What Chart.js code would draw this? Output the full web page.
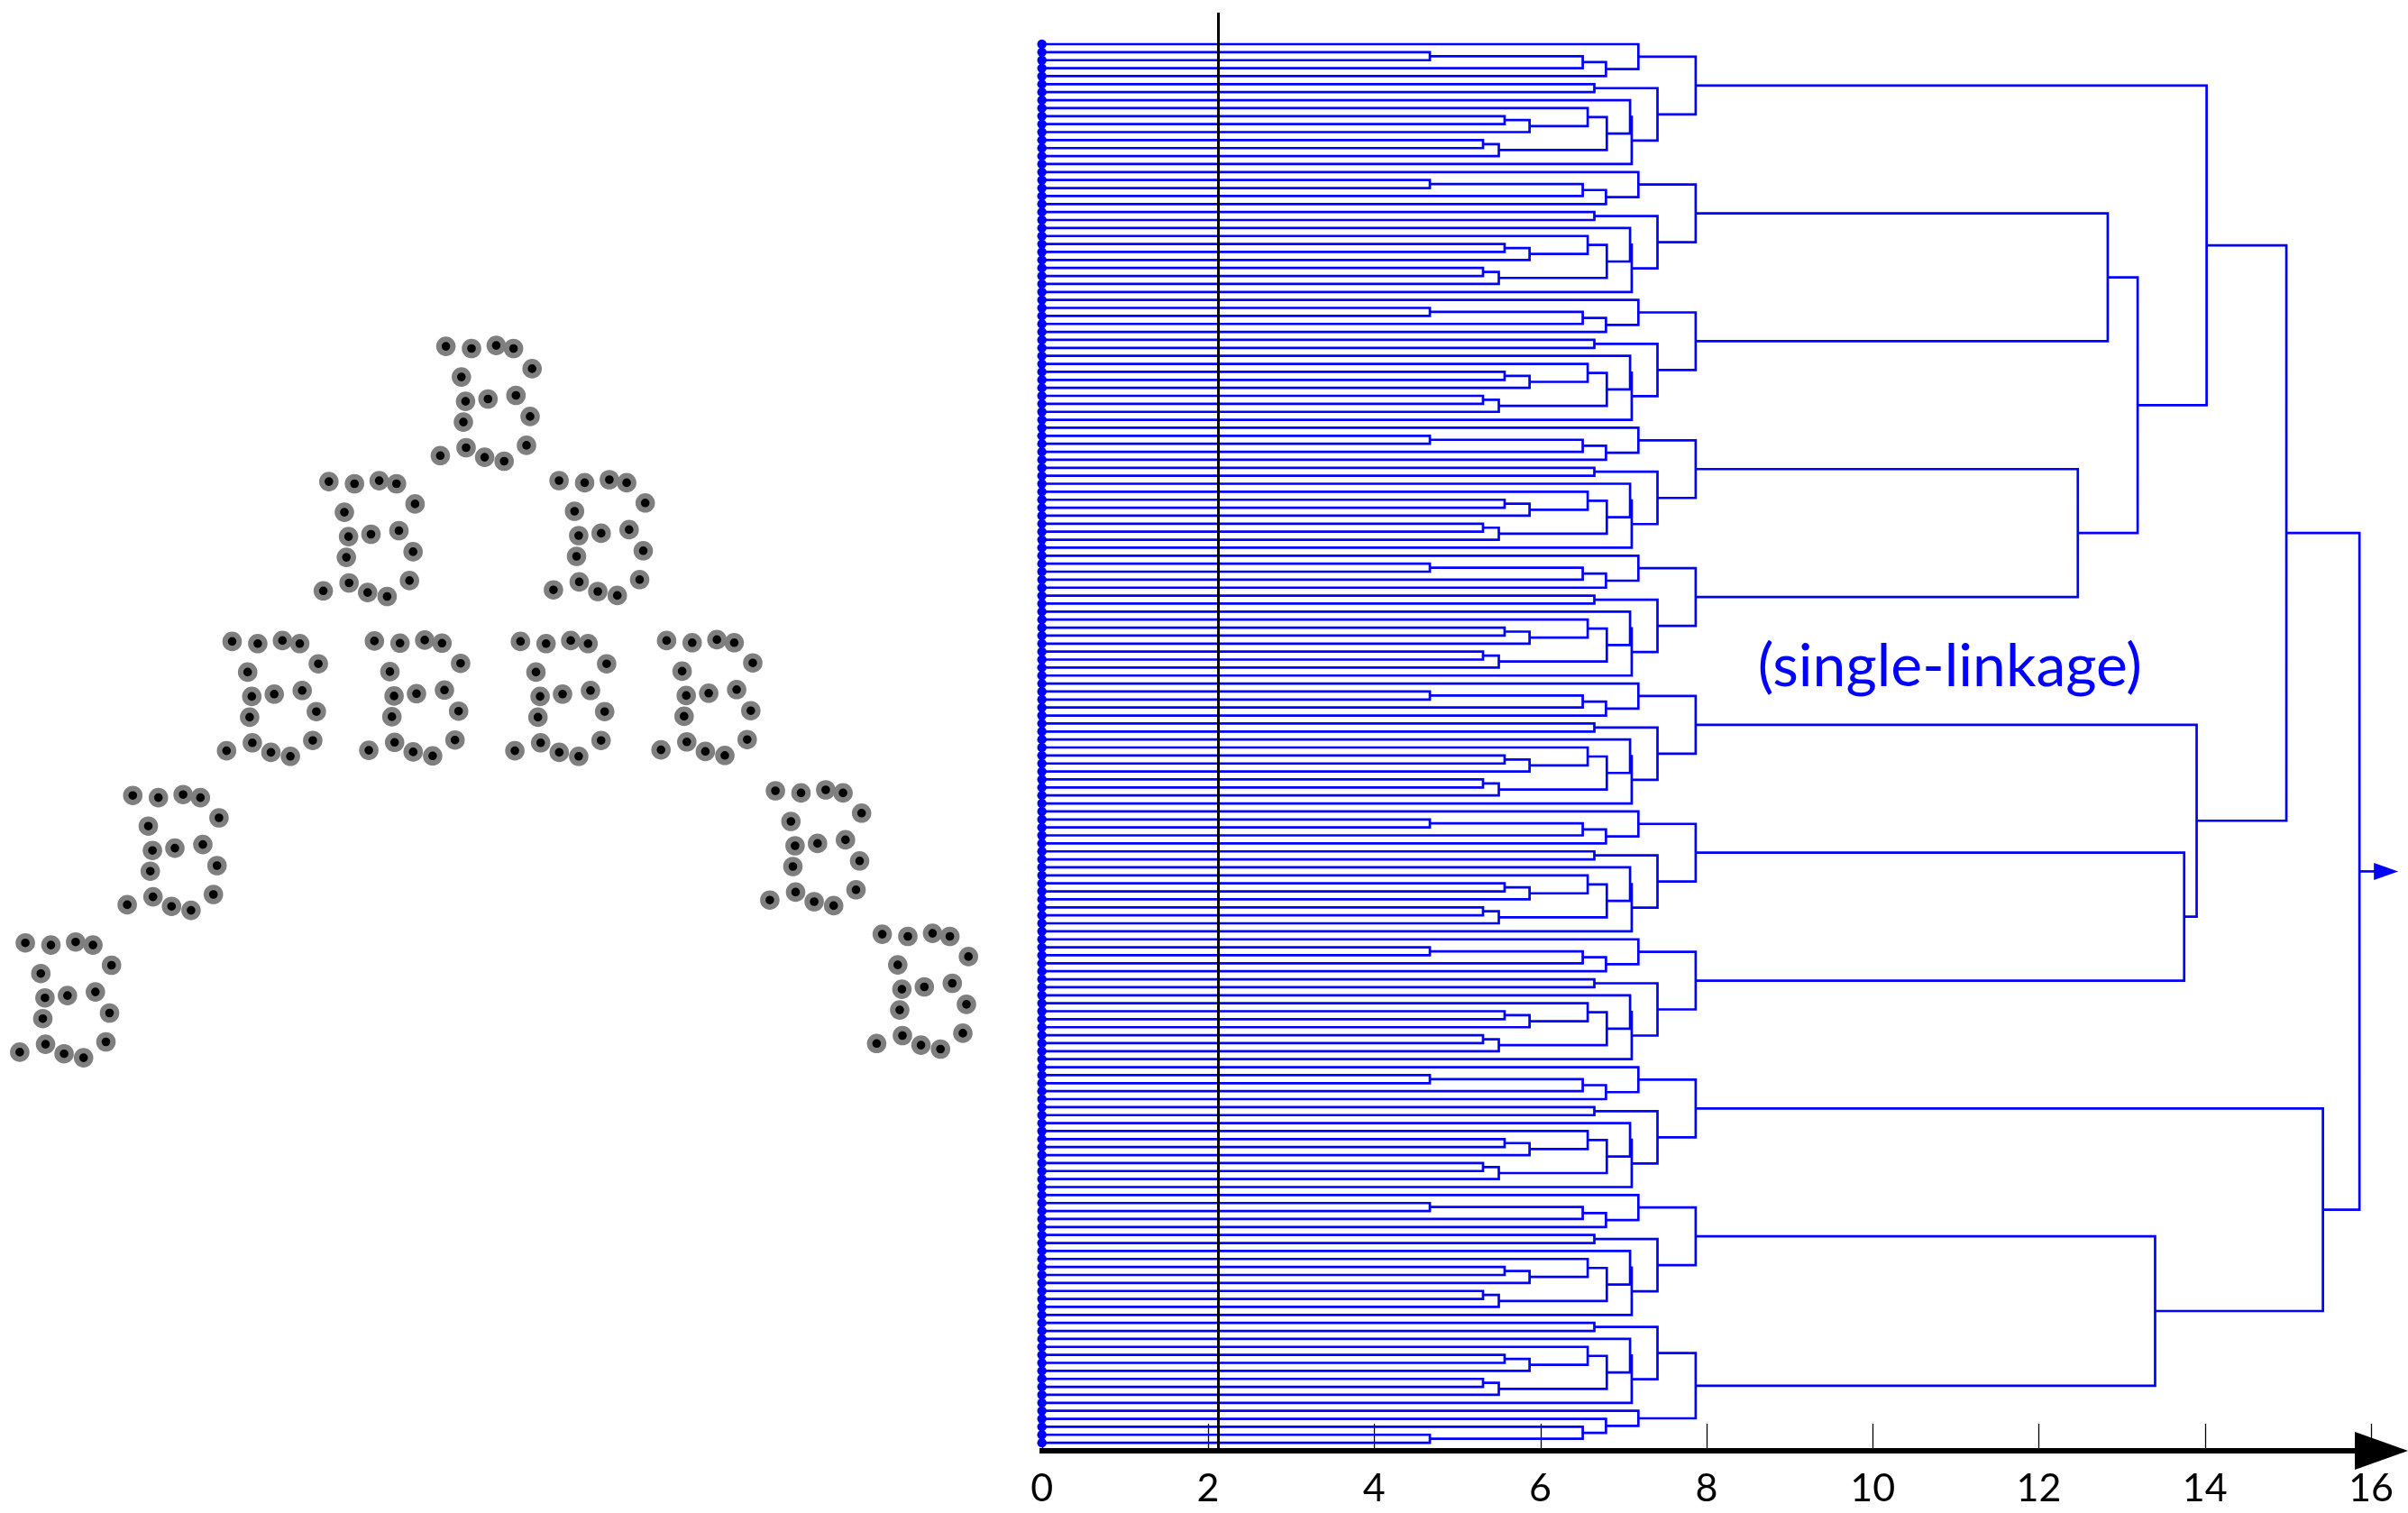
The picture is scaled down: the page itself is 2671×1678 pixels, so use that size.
<!DOCTYPE html>
<html><head><meta charset="utf-8">
<script src="https://cdn.jsdelivr.net/npm/chart.js@4.4.1/dist/chart.umd.min.js"></script>
<style>
html,body{margin:0;padding:0;background:#fff;overflow:hidden;}
#wrap{position:relative;width:2671px;height:1678px;background:#fff;}
#c1{position:absolute;left:0;top:0;}
#c2{position:absolute;left:1100px;top:0;}
</style></head><body>
<div id="wrap">
<canvas id="c1" width="1140" height="1678"></canvas>
<canvas id="c2" width="1571" height="1678"></canvas>
</div>
<script>
// ---------- data: the "B" point cloud (left panel) ----------
// shape of one B (16 points), relative to its first point, data units
const bShapeDX = [0, 2.84, 5.58, 7.50, 9.56, 1.72, 2.18, 4.67, 7.77, 9.34, 1.94, -0.62, 2.24, 4.30, 6.46, 8.94];
const bShapeDY = [0, -0.24, 0.10, -0.24, -2.48, -3.40, -6.10, -5.84, -5.44, -7.78, -8.40, -12.12, -11.24, -12.30, -12.74, -10.98];
// position of the first point of each of the 11 copies
const bOriginX = [49.46, 36.48, 62.01, 25.75, 41.53, 57.73, 73.94, 14.73, 86.01, 2.81, 97.86];
const bOriginY = [129.39, 114.39, 114.50, 96.66, 96.71, 96.66, 96.76, 79.58, 80.10, 63.23, 64.19];

// ---------- data: single-linkage dendrogram (right panel) ----------
// merges inside one B cluster: leaves 0..15, new nodes 16..30
const innerLeft   = [1, 16, 17, 0, 5, 9, 21, 8, 12, 24, 23, 7, 27, 20, 19];
const innerRight  = [2, 3, 4, 18, 6, 10, 11, 22, 13, 14, 25, 26, 15, 28, 29];
const innerHeight = [4.67, 6.51, 6.79, 7.18, 6.65, 5.57, 5.87, 6.57, 5.31, 5.50, 6.80, 7.08, 7.10, 7.41, 7.87];
// merges between the 11 clusters: clusters 0..10, new nodes 11..20
const topLeft   = [1, 3, 11, 0, 6, 5, 14, 9, 8, 17];
const topRight  = [2, 4, 12, 13, 7, 15, 16, 10, 18, 19];
const topHeight = [12.83, 12.47, 13.19, 14.02, 13.75, 13.90, 14.98, 13.40, 15.42, 15.86];
// inner nodes drawn with their two branches swapped, per cluster
const swappedNodes = [[], [], [], [], [], [], [], [], [], [], [30, 18, 17]];
const cutHeight = 2.125;
const xTickValues = [0, 2, 4, 6, 8, 10, 12, 14, 16];
const titleText = '(single-linkage)';

// ---------- left chart ----------
const bPoints = [];
for (let b = 0; b < bOriginX.length; b++) {
  for (let p = 0; p < bShapeDX.length; p++) {
    bPoints.push({x: bOriginX[b] + bShapeDX[p], y: bOriginY[b] + bShapeDY[p]});
  }
}
new Chart(document.getElementById('c1'), {
  type: 'scatter',
  data: {datasets: [{
    data: bPoints, pointRadius: 7.8, pointBorderWidth: 6,
    pointBorderColor: '#7f7f7f', pointBackgroundColor: '#000', clip: false
  }]},
  options: {
    responsive: false, animation: false, events: [],
    layout: {padding: 0, autoPadding: false},
    scales: {x: {display: false, min: 0, max: 114}, y: {display: false, min: 0, max: 167.8}},
    plugins: {legend: {display: false}, tooltip: {enabled: false}}
  }
});

// ---------- dendrogram layout from the linkage arrays ----------
const nLeavesPerCluster = bShapeDX.length;
const nClusters = bOriginX.length;
const segs = [];
const leafPts = [];
let leafCounter = 0;
function addMerge(ra, rb, H) {
  segs.push({x: ra.h, y: ra.y}, {x: H, y: ra.y}, {x: H, y: rb.y}, {x: rb.h, y: rb.y}, {x: null, y: null});
}
function layoutInner(node, swaps) {
  if (node < nLeavesPerCluster) {
    const y = leafCounter++;
    leafPts.push({x: 0, y: y});
    return {y: y, h: 0};
  }
  const k = node - nLeavesPerCluster;
  let a = innerLeft[k], b = innerRight[k];
  if (swaps.indexOf(node) >= 0) { const t = a; a = b; b = t; }
  const ra = layoutInner(a, swaps), rb = layoutInner(b, swaps);
  addMerge(ra, rb, innerHeight[k]);
  return {y: (ra.y + rb.y) / 2, h: innerHeight[k]};
}
function layoutTop(node) {
  if (node < nClusters) return layoutInner(nLeavesPerCluster + innerLeft.length - 1, swappedNodes[node]);
  const k = node - nClusters;
  const ra = layoutTop(topLeft[k]), rb = layoutTop(topRight[k]);
  addMerge(ra, rb, topHeight[k]);
  return {y: (ra.y + rb.y) / 2, h: topHeight[k]};
}
const root = layoutTop(nClusters + topLeft.length - 1);

const yMin = -3.95, yMax = 176.0;

const decor = {
  id: 'decor',
  beforeDatasetsDraw(chart) {
    const ctx = chart.ctx, xs = chart.scales.x, ca = chart.chartArea;
    ctx.save();
    ctx.strokeStyle = '#000';
    ctx.lineWidth = 1.3;
    xs.ticks.forEach(t => {
      const px = Math.round(xs.getPixelForValue(t.value)) + 0.5;
      ctx.beginPath();
      ctx.moveTo(px, ca.bottom - 30);
      ctx.lineTo(px, ca.bottom);
      ctx.stroke();
    });
    ctx.restore();
  },
  afterDraw(chart) {
    const ctx = chart.ctx, xs = chart.scales.x, ys = chart.scales.y, ca = chart.chartArea;
    ctx.save();
    // axis arrow head
    const ay = ca.bottom;
    ctx.fillStyle = '#000';
    ctx.beginPath();
    ctx.moveTo(ca.right - 18, ay - 21);
    ctx.lineTo(chart.width, ay);
    ctx.lineTo(ca.right - 18, ay + 21);
    ctx.closePath();
    ctx.fill();
    // root stub with arrow
    const rx = xs.getPixelForValue(root.h), ry = ys.getPixelForValue(root.y);
    ctx.strokeStyle = '#0000ff';
    ctx.lineWidth = 2.7;
    ctx.beginPath();
    ctx.moveTo(rx, ry);
    ctx.lineTo(rx + 18, ry);
    ctx.stroke();
    ctx.fillStyle = '#0000ff';
    ctx.beginPath();
    ctx.moveTo(rx + 16, ry - 9.5);
    ctx.lineTo(rx + 43, ry);
    ctx.lineTo(rx + 16, ry + 9.5);
    ctx.closePath();
    ctx.fill();
    // title
    ctx.font = '66px Lato';
    ctx.textAlign = 'center';
    ctx.textBaseline = 'alphabetic';
    ctx.fillText(titleText, xs.getPixelForValue(10.93), ys.getPixelForValue(80.3));
    ctx.restore();
  }
};

new Chart(document.getElementById('c2'), {
  type: 'scatter',
  data: {datasets: [
    {label: 'cut', data: [{x: cutHeight, y: yMin}, {x: cutHeight, y: yMax}], showLine: true,
     borderColor: '#000', borderWidth: 3, pointRadius: 0, clip: false},
    {label: 'leaves', data: leafPts, showLine: false, pointRadius: 5.2,
     pointBackgroundColor: '#0000ff', pointBorderWidth: 0, clip: false},
    {label: 'tree', data: segs, showLine: true, spanGaps: false, borderColor: '#0000ff',
     borderWidth: 2.7, pointRadius: 0, clip: false, borderCapStyle: 'square', borderJoinStyle: 'miter'}
  ]},
  options: {
    responsive: false, animation: false, events: [],
    layout: {padding: {left: 55.7, right: 39, top: 14, bottom: 0}, autoPadding: false},
    scales: {
      x: {
        type: 'linear', min: 0, max: 16, position: 'bottom',
        border: {display: true, color: '#000', width: 6},
        grid: {display: true, drawOnChartArea: false, drawTicks: false},
        afterBuildTicks(scale) { scale.ticks = xTickValues.map(v => ({value: v})); },
        ticks: {color: '#000', font: {family: 'Lato', size: 43}, padding: 16, maxRotation: 0, autoSkip: false},
        afterFit(scale) { scale.height = 69; }
      },
      y: {type: 'linear', reverse: true, min: yMin, max: yMax, display: false}
    },
    plugins: {legend: {display: false}, tooltip: {enabled: false}}
  },
  plugins: [decor]
});
</script>
</body></html>
